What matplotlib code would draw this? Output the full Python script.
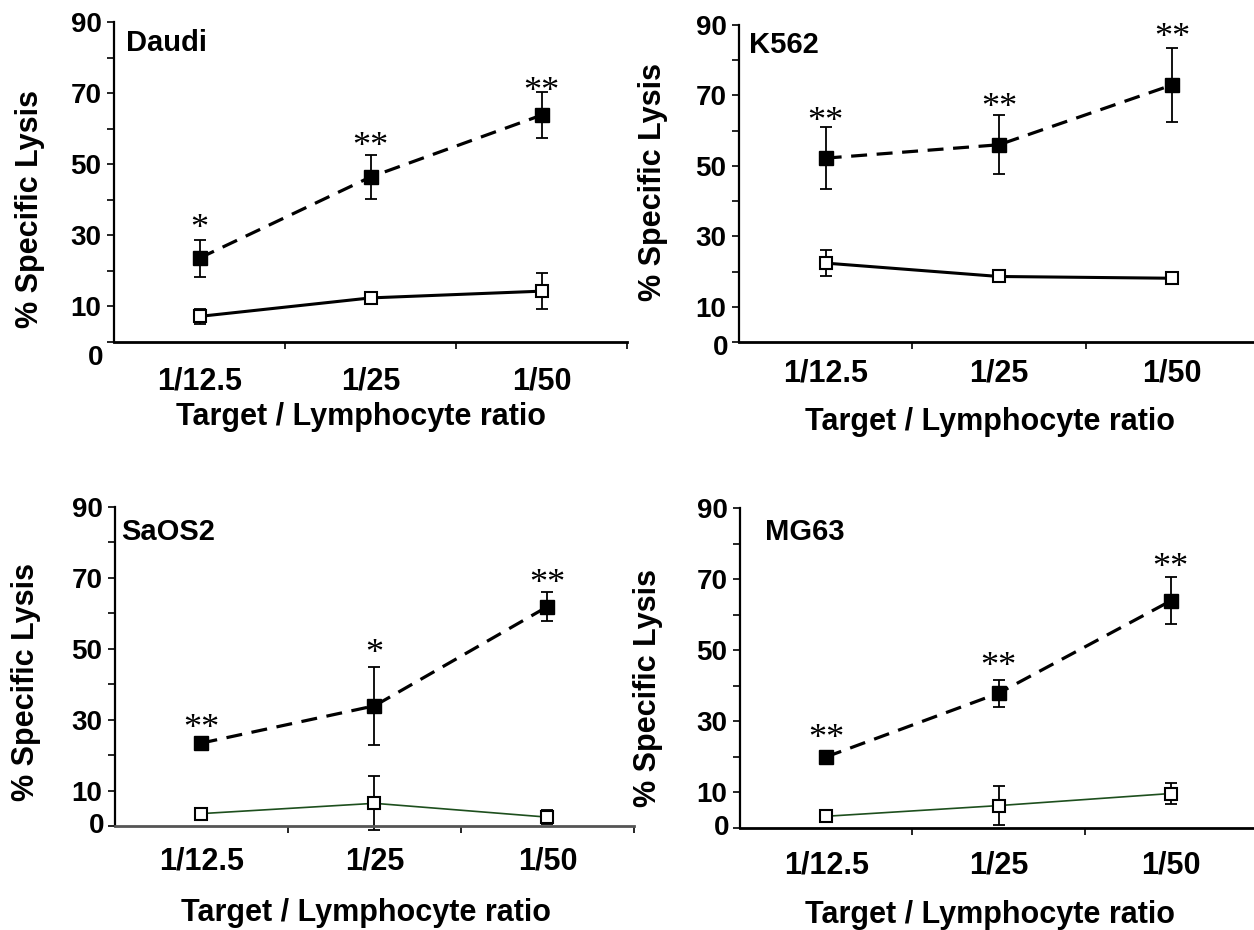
import matplotlib.pyplot as plt

plt.rcParams['font.family'] = ['Liberation Sans', 'DejaVu Sans']
plt.rcParams['font.weight'] = 'bold'

W, H = 1254, 930

ratios = ['1/12.5', '1/25', '1/50']
y_ticks = [0, 10, 20, 30, 40, 50, 60, 70, 80, 90]
y_tick_labels = ['', '10', '', '30', '', '50', '', '70', '', '90']
xlabel = 'Target / Lymphocyte ratio'
ylabel = '% Specific Lysis'

# filled squares (dashed) and open squares (solid), mean and error
daudi_filled = [23.6, 46.4, 63.8]
daudi_filled_err = [5.2, 6.3, 6.5]
daudi_open = [7.2, 12.4, 14.3]
daudi_open_err = [2.2, 0.8, 5.1]
daudi_stars = ['*', '**', '**']
daudi_star_y = [34.0, 57.1, 72.6]

k562_filled = [52.2, 56.0, 73.0]
k562_filled_err = [8.7, 8.4, 10.6]
k562_open = [22.4, 18.6, 18.1]
k562_open_err = [3.6, 0.5, 0.5]
k562_stars = ['**', '**', '**']
k562_star_y = [64.9, 68.9, 88.6]

saos2_filled = [23.4, 33.9, 61.9]
saos2_filled_err = [0.8, 11.1, 4.0]
saos2_open = [3.5, 6.4, 2.5]
saos2_open_err = [0.5, 7.6, 2.0]
saos2_stars = ['**', '*', '**']
saos2_star_y = [29.8, 51.0, 70.7]

mg63_filled = [20.0, 37.9, 63.9]
mg63_filled_err = [0.6, 3.8, 6.6]
mg63_open = [3.3, 6.3, 9.7]
mg63_open_err = [0.5, 5.4, 2.9]
mg63_stars = ['**', '**', '**']
mg63_star_y = [27.3, 47.6, 75.4]


def px_rect(left, right, top, bottom):
    return [left / W, 1 - bottom / H, (right - left) / W, (bottom - top) / H]


def fig_xy(x, y):
    return x / W, 1 - y / H


fig = plt.figure(figsize=(W / 100, H / 100), dpi=100)


def draw_panel(rect, name, filled, filled_err, opn, opn_err, stars, star_y,
               open_color, open_lw, bottom_color, xpad, zero_drop,
               title_px, xlabel_px, ylabel_px):
    ax = fig.add_axes(px_rect(*rect))
    x = list(range(len(ratios)))

    ax.errorbar(x, opn, yerr=opn_err, fmt='none', ecolor='black', elinewidth=1.3,
                capsize=4, capthick=1.3, zorder=2, clip_on=False)
    ax.plot(x, opn, color=open_color, linewidth=open_lw, zorder=3, clip_on=False)
    ax.plot(x, opn, linestyle='none', marker='s', markersize=8, markerfacecolor='white',
            markeredgecolor='black', markeredgewidth=1.5, zorder=5, clip_on=False)

    ax.errorbar(x, filled, yerr=filled_err, fmt='none', ecolor='black', elinewidth=1.3,
                capsize=4, capthick=1.3, zorder=2, clip_on=False)
    ax.plot(x, filled, color='black', linewidth=2.3, dashes=(5, 3), zorder=3)
    ax.plot(x, filled, linestyle='none', marker='s', markersize=9.5,
            color='black', zorder=5)

    for xi, s, yi in zip(x, stars, star_y):
        ax.annotate(s, xy=(xi, yi), xytext=(0, -12.5), textcoords='offset points',
                    ha='center', va='baseline', fontsize=26, fontweight='normal',
                    family=['Liberation Serif', 'DejaVu Serif'], annotation_clip=False)

    ax.set_xlim(-0.5, 2.5)
    ax.set_ylim(0, 90)
    ax.set_xticks(x)
    ax.set_xticklabels(ratios, fontsize=22, fontweight='bold')
    ax.set_xticks([0.5, 1.5, 2.5], minor=True)
    ax.tick_params(axis='x', which='major', length=0, pad=xpad)
    ax.tick_params(axis='x', which='minor', length=5, width=1.2, direction='out')
    ax.set_yticks(y_ticks)
    ax.set_yticklabels(y_tick_labels, fontsize=20, fontweight='bold')
    ax.tick_params(axis='y', length=5, width=1.2, direction='out', pad=4)

    ax.annotate('0', xy=(0, 0), xycoords=ax.get_yaxis_transform(),
                xytext=(-7.6, -zero_drop), textcoords='offset points',
                ha='right', va='center', fontsize=20, fontweight='bold',
                annotation_clip=False)

    for side in ['top', 'right']:
        ax.spines[side].set_visible(False)
    ax.spines['left'].set_linewidth(1.6)
    ax.spines['bottom'].set_linewidth(2.0)
    ax.spines['bottom'].set_color(bottom_color)
    ax.patch.set_alpha(0)

    tx, ty = fig_xy(*title_px)
    fig.text(tx, ty, name, ha='left', va='center', fontsize=21, fontweight='bold')
    lx, ly = fig_xy(*xlabel_px)
    fig.text(lx, ly, xlabel, ha='center', va='center', fontsize=22, fontweight='bold')
    yx, yy = fig_xy(*ylabel_px)
    fig.text(yx, yy, ylabel, ha='center', va='center', rotation=90,
             fontsize=22, fontweight='bold')
    return ax


draw_panel((114, 627, 22, 342), 'Daudi', daudi_filled, daudi_filled_err,
           daudi_open, daudi_open_err, daudi_stars, daudi_star_y,
           'black', 2.2, 'black', 18, 11.5, (126, 43), (361, 417), (30, 209))
draw_panel((739, 1259, 25, 342), 'K562', k562_filled, k562_filled_err,
           k562_open, k562_open_err, k562_stars, k562_star_y,
           'black', 2.2, 'black', 12, 4.3, (749, 45), (990, 422), (653, 182))
draw_panel((115, 634, 507, 826), 'SaOS2', saos2_filled, saos2_filled_err,
           saos2_open, saos2_open_err, saos2_stars, saos2_star_y,
           '#1d4f1d', 1.2, '#555555', 15, 0, (121, 532), (366, 913), (26, 682))
draw_panel((740, 1257, 508, 828), 'MG63', mg63_filled, mg63_filled_err,
           mg63_open, mg63_open_err, mg63_stars, mg63_star_y,
           '#1d4f1d', 1.2, 'black', 16.5, 0, (765, 532), (990, 915), (648, 688))

fig.savefig('out.png', dpi=100)
